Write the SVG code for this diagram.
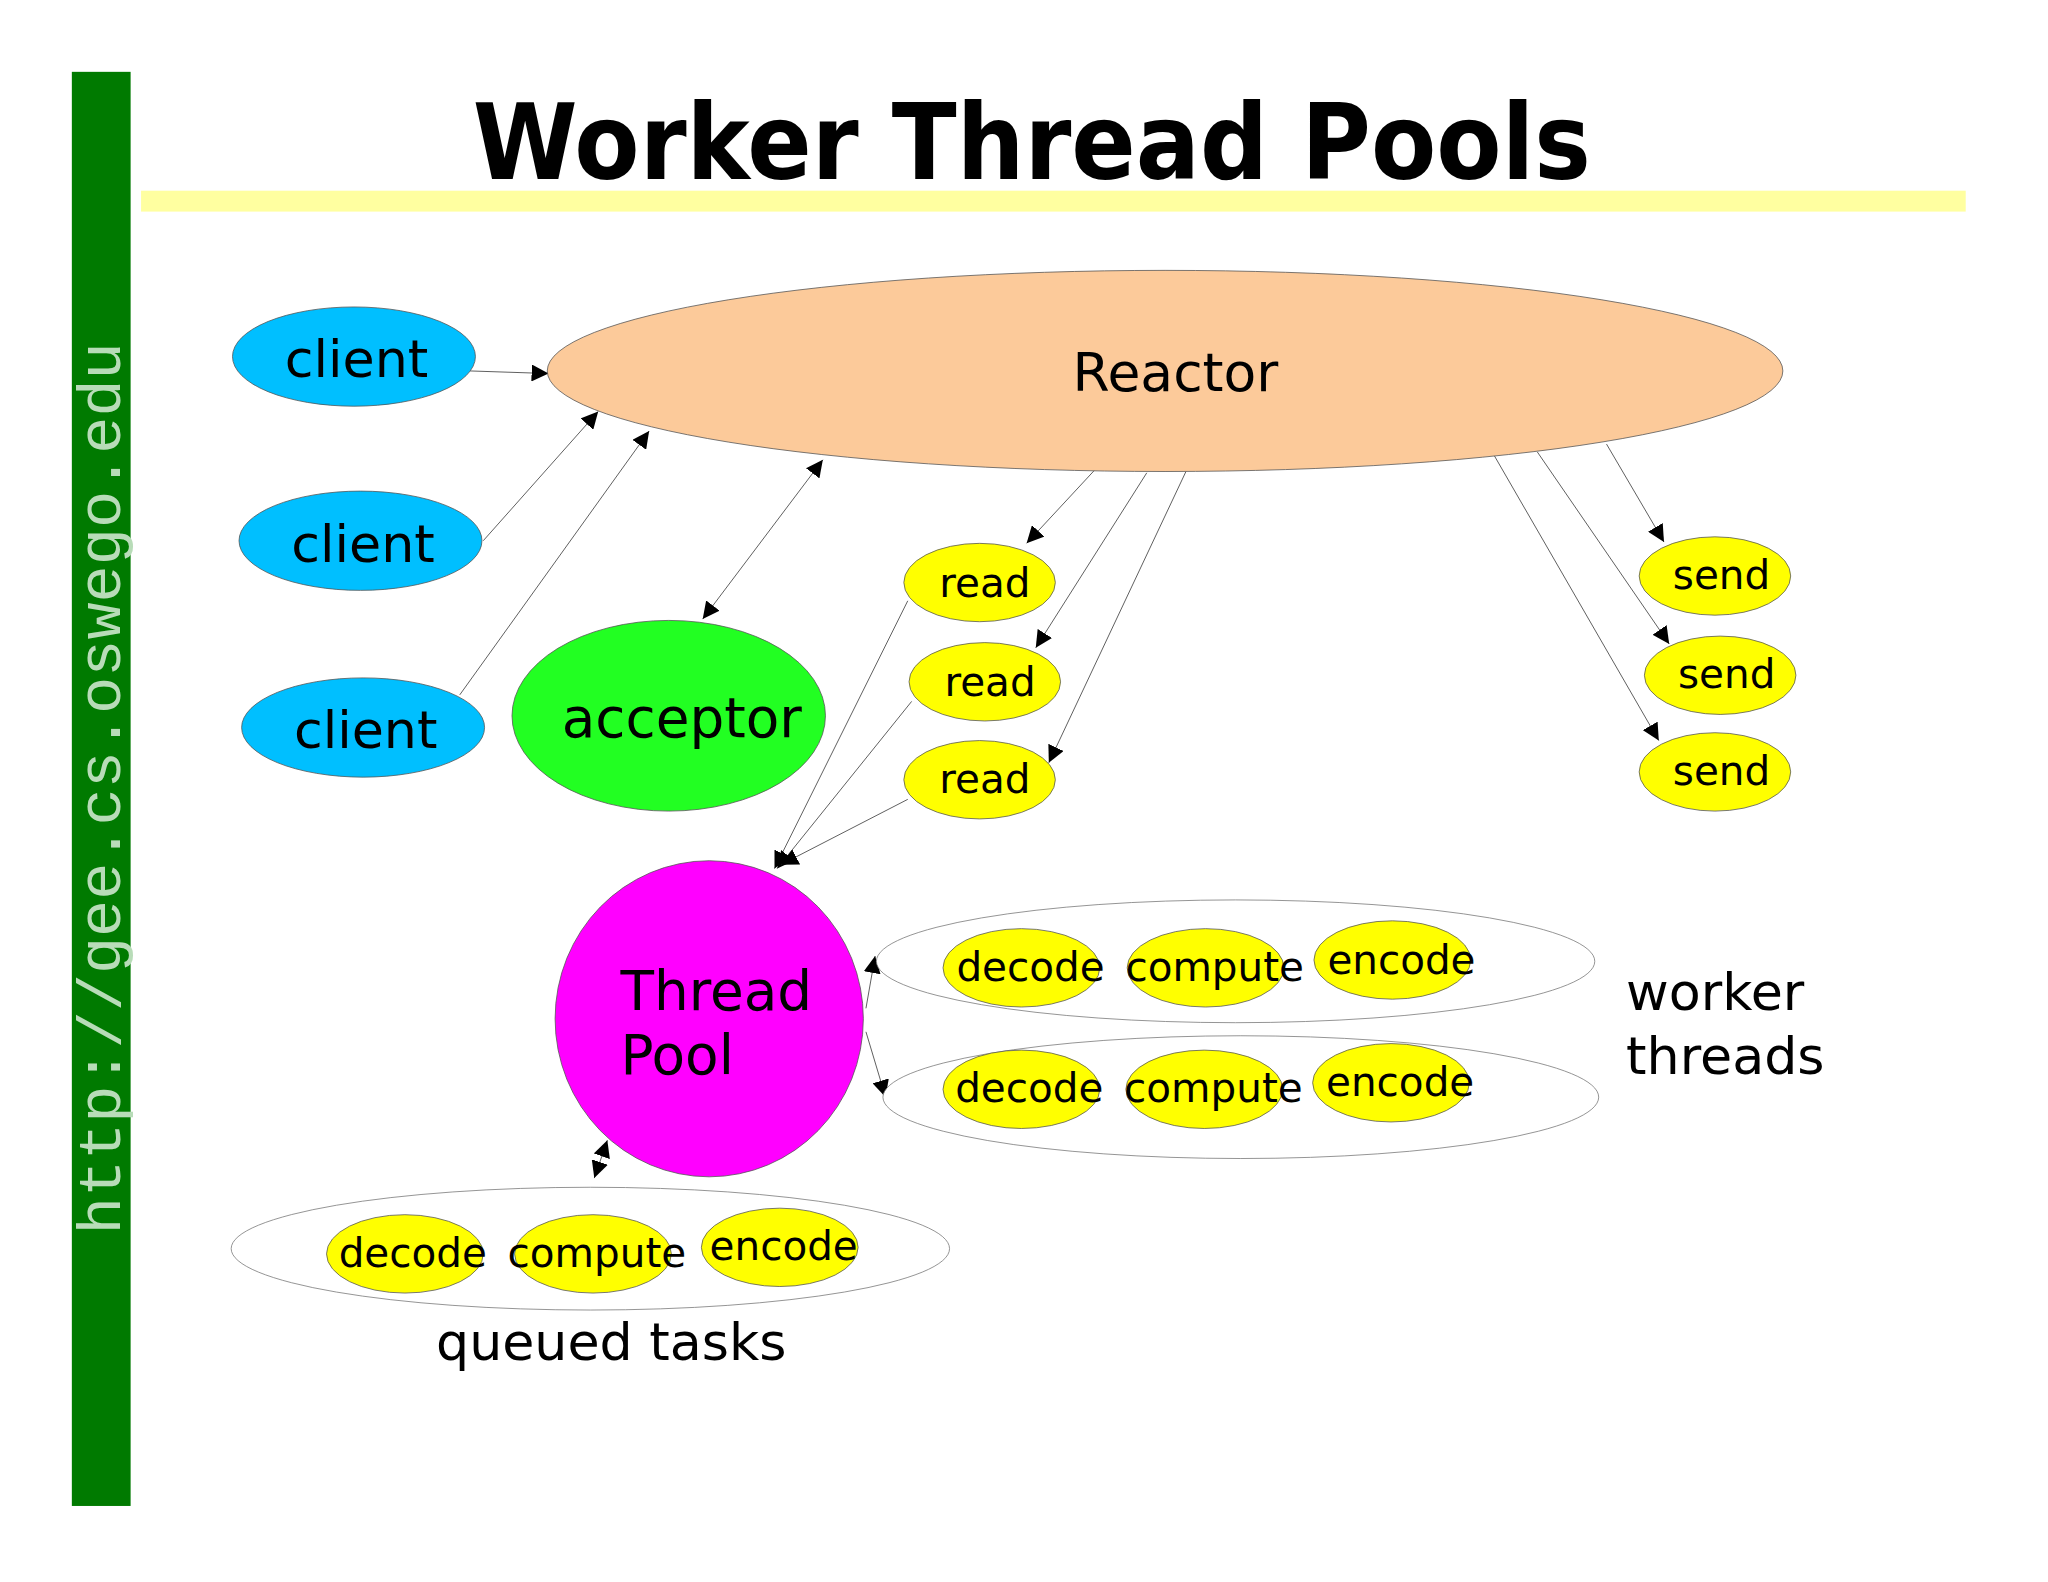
<svg xmlns="http://www.w3.org/2000/svg" width="2048" height="1582" viewBox="0 0 2048 1582">
<defs>
<marker id="ah" viewBox="0 0 10 10" refX="10" refY="5" markerWidth="13" markerHeight="13" markerUnits="userSpaceOnUse" orient="auto-start-reverse"><path d="M0,0 L10,5 L0,10 z" fill="#000"/></marker>
<style>
.t{font-family:"DejaVu Sans","Liberation Sans",sans-serif;fill:#000}
.n{stroke:#555;stroke-width:0.6}
.y{fill:#ffff00}
.c{fill:#00bfff}
.o{fill:#fff;stroke:#777;stroke-width:0.6}
.e{stroke:#333;stroke-width:0.6;fill:none;marker-end:url(#ah)}
.b{stroke:#333;stroke-width:0.6;fill:none;marker-end:url(#ah);marker-start:url(#ah)}
</style>
</defs>
<rect width="2048" height="1582" fill="#fff"/>
<g transform="scale(1.30612)">
<rect x="55" y="55" width="45" height="1098" fill="#007a00"/>
<text transform="translate(92,945) rotate(-90)" font-family="Liberation Mono,monospace" font-size="47" fill="#b8dcb8" textLength="683" lengthAdjust="spacingAndGlyphs">http://gee.cs.oswego.edu</text>
<text x="790" y="137" text-anchor="middle" font-family="DejaVu Sans,sans-serif" font-weight="bold" font-size="80" textLength="856" lengthAdjust="spacingAndGlyphs">Worker Thread Pools</text>
<rect x="108" y="146" width="1397" height="16" fill="#ffffa0"/>
<g id="connectors">
<path class="e" d="M360,284 L420,286"/>
<path class="e" d="M370,414 L458,315"/>
<path class="e" d="M352,532 L497,330"/>
<path class="b" d="M538,474 L630,352"/>
<path class="e" d="M838,360 L786,416"/>
<path class="e" d="M878,362 L793,496"/>
<path class="e" d="M908,361 L803,584"/>
<path class="e" d="M695,460 L593,665"/>
<path class="e" d="M698,537 L595,665"/>
<path class="e" d="M695,612 L598,662"/>
<path class="e" d="M1230,340 L1274,415"/>
<path class="e" d="M1177,346 L1278,493"/>
<path class="e" d="M1143,347 L1270,567"/>
<path class="e" d="M663,772 L670,732"/>
<path class="e" d="M663,790 L678,840"/>
<path class="b" d="M455,902 L465,873"/>
</g>
<g id="reactor"><ellipse class="n" cx="892" cy="284" rx="473" ry="77" fill="#fcca9a"/><text class="t" x="900" y="299" text-anchor="middle" font-size="41">Reactor</text></g>
<g id="client1"><ellipse class="n c" cx="271" cy="273" rx="93" ry="38"/><text class="t" x="273" y="289" text-anchor="middle" font-size="40">client</text></g>
<g id="client2"><ellipse class="n c" cx="276" cy="414" rx="93" ry="38"/><text class="t" x="278" y="430" text-anchor="middle" font-size="40">client</text></g>
<g id="client3"><ellipse class="n c" cx="278" cy="557" rx="93" ry="38"/><text class="t" x="280" y="573" text-anchor="middle" font-size="40">client</text></g>
<g id="acceptor"><ellipse class="n" cx="512" cy="548" rx="120" ry="73" fill="#22ff22"/><text class="t" x="522" y="564" text-anchor="middle" font-size="42">acceptor</text></g>
<g id="read1"><ellipse class="n y" cx="750" cy="446" rx="58" ry="30"/><text class="t" x="754" y="457" text-anchor="middle" font-size="31">read</text></g>
<g id="read2"><ellipse class="n y" cx="754" cy="522" rx="58" ry="30"/><text class="t" x="758" y="533" text-anchor="middle" font-size="31">read</text></g>
<g id="read3"><ellipse class="n y" cx="750" cy="597" rx="58" ry="30"/><text class="t" x="754" y="607" text-anchor="middle" font-size="31">read</text></g>
<g id="send1"><ellipse class="n y" cx="1313" cy="441" rx="58" ry="30"/><text class="t" x="1318" y="451" text-anchor="middle" font-size="31">send</text></g>
<g id="send2"><ellipse class="n y" cx="1317" cy="517" rx="58" ry="30"/><text class="t" x="1322" y="527" text-anchor="middle" font-size="31">send</text></g>
<g id="send3"><ellipse class="n y" cx="1313" cy="591" rx="58" ry="30"/><text class="t" x="1318" y="601" text-anchor="middle" font-size="31">send</text></g>
<g id="threadpool"><ellipse class="n" cx="543" cy="780" rx="118" ry="121" fill="#ff00ff"/><text class="t" x="475" y="773" font-size="42">Thread</text><text class="t" x="475" y="822" font-size="42">Pool</text></g>
<g id="worker1"><ellipse class="o" cx="946" cy="736" rx="275" ry="47"/>
<ellipse class="n y" cx="782" cy="741" rx="60" ry="30"/><ellipse class="n y" cx="923" cy="741" rx="60" ry="30"/><ellipse class="n y" cx="1066" cy="735" rx="60" ry="30"/>
<text class="t" x="789" y="751" text-anchor="middle" font-size="31">decode</text><text class="t" x="930" y="751" text-anchor="middle" font-size="31">compute</text><text class="t" x="1073" y="746" text-anchor="middle" font-size="31">encode</text></g>
<g id="worker2"><ellipse class="o" cx="950" cy="840" rx="274" ry="47"/>
<ellipse class="n y" cx="782" cy="834" rx="60" ry="30"/><ellipse class="n y" cx="922" cy="834" rx="60" ry="30"/><ellipse class="n y" cx="1065" cy="829" rx="60" ry="30"/>
<text class="t" x="788" y="844" text-anchor="middle" font-size="31">decode</text><text class="t" x="929" y="844" text-anchor="middle" font-size="31">compute</text><text class="t" x="1072" y="839" text-anchor="middle" font-size="31">encode</text></g>
<g id="workerlabel"><text class="t" x="1245" y="773" font-size="40">worker</text><text class="t" x="1245" y="822" font-size="40">threads</text></g>
<g id="queued"><ellipse class="o" cx="452" cy="956" rx="275" ry="47"/>
<ellipse class="n y" cx="310" cy="960" rx="60" ry="30"/><ellipse class="n y" cx="454" cy="960" rx="60" ry="30"/><ellipse class="n y" cx="597" cy="955" rx="60" ry="30"/>
<text class="t" x="316" y="970" text-anchor="middle" font-size="31">decode</text><text class="t" x="457" y="970" text-anchor="middle" font-size="31">compute</text><text class="t" x="600" y="965" text-anchor="middle" font-size="31">encode</text>
<text class="t" x="468" y="1041" text-anchor="middle" font-size="40">queued tasks</text></g>
</g>
</svg>
